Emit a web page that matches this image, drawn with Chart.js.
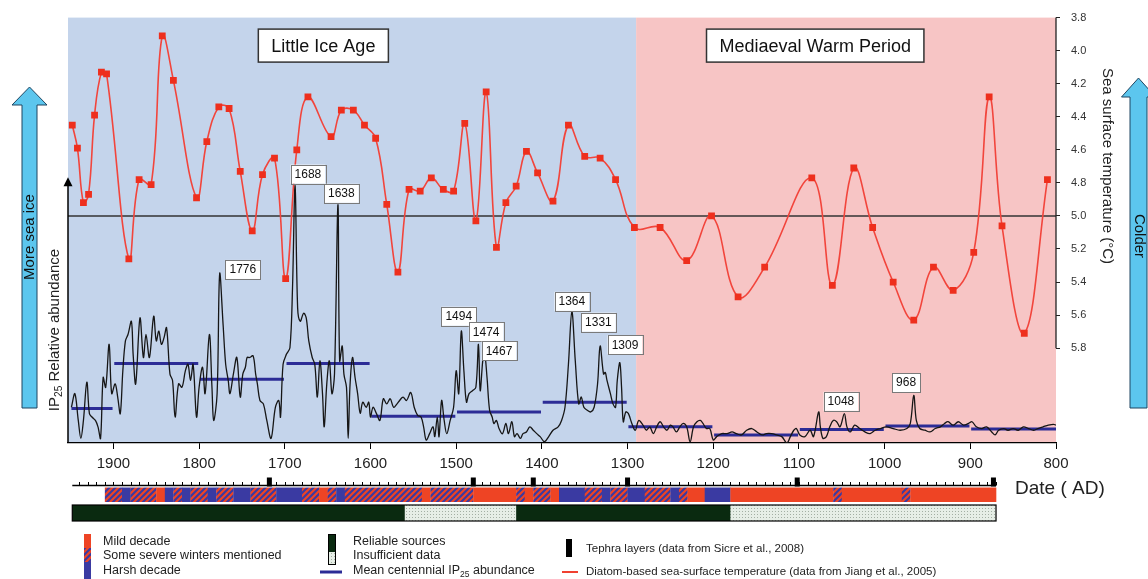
<!DOCTYPE html>
<html>
<head>
<meta charset="utf-8">
<script src="https://cdn.jsdelivr.net/npm/chart.js@4.4.0/dist/chart.umd.min.js"></script>
<style>
html, body { margin: 0; padding: 0; background: #fff; }
#wrap { position: relative; width: 1148px; height: 579px; }
</style>
</head>
<body>
<div id="wrap"><canvas id="chart" width="1148" height="579"></canvas></div>
<script>
// IP25 relative abundance (arbitrary 0-100 units)
var ip25Years = [
  1949,1945,1941,1938,1935,1931,1928,1925,1921,1918,1915,
  1912,1909,1905,1902,1898,1895,1892,1889,1886,1883,
  1879,1877,1874,1869,1865,1862,1858,1853,1850,1847,
  1844,1841,1838,1834,1831,1828,1824,1820,1816,1813,
  1810,1807,1803,1800,1796,1793,1788,1785,1783,1779,
  1776,1772,1769,1766,1764,1760,1756,1752,1749,1746,
  1744,1741,1737,1734,1732,1729,1725,1721,1716,1711,
  1707,1705,1702,1698,1694,1691,1688,1685,1682,1678,
  1675,1672,1668,1665,1662,1659,1656,1654,1651,1648,
  1645,1642,1638,1636,1633,1631,1628,1626,1624,1621,
  1618,1615,1612,1609,1605,1602,1600,1597,1593,1589,
  1585,1581,1577,1573,1569,1566,1562,1558,1553,1549,
  1545,1541,1538,1535,1531,1527,1525,1522,1520,1517,
  1514,1511,1507,1503,1500,1497,1494,1491,1488,1485,
  1481,1477,1474,1472,1469,1467,1464,1461,1458,1456,
  1453,1450,1446,1442,1439,1435,1432,1429,1425,1422,
  1418,1414,1410,1406,1402,1397,1392,1387,1381,1377,
  1373,1369,1365,1361,1357,1354,1351,1347,1343,1339,
  1335,1332,1328,1326,1324,1320,1317,1314,1312,1309,
  1307,1305,1302,1299,1295,1291,1287,1282,1278,1274,
  1270,1266,1262,1258,1254,1250,1247,1243,1239,1235,
  1231,1227,1223,1219,1215,1212,1208,1204,1200,1196,
  1190,1184,1178,1173,1167,1161,1155,1149,1143,1138,
  1132,1126,1120,1114,1110,1106,1103,1099,1093,1087,
  1083,1077,1075,1072,1068,1064,1060,1056,1052,1047,
  1044,1040,1035,1029,1023,1017,1011,1005,998,990,
  982,974,970,966,963,959,953,947,941,935,
  930,926,920,914,908,902,898,893,887,881,
  875,871,867,861,856,850,844,838,832,826,
  821,815,809,803,800
];
var ip25Values = [
  8.4,11.6,5.3,1.1,5.3,14.3,6.9,6.1,5.3,3.8,1.1,
  15.4,13.1,23.2,11.6,13.9,10.8,6.9,17.0,24.0,25.5,
  28.6,20.9,13.9,29.4,20.1,25.5,20.1,29.8,24.0,26.3,
  23.2,24.7,27.1,16.2,14.7,6.1,13.9,13.1,17.0,18.5,
  14.7,18.5,6.1,13.1,17.8,11.6,25.5,13.1,5.3,11.6,
  39.8,27.8,18.5,14.7,11.6,16.2,20.1,10.8,16.2,17.8,
  20.1,20.1,20.5,16.2,13.9,10.0,9.2,5.3,1.1,8.4,
  10.0,6.1,18.5,20.9,22.4,36.4,60.5,31.7,28.6,30.5,
  29.4,24.0,20.1,18.5,10.8,19.3,11.6,3.8,13.9,19.3,
  11.6,16.2,56.0,19.3,22.8,16.2,13.1,1.1,13.1,20.1,
  15.4,11.6,7.0,9.6,8.4,9.6,6.1,8.4,6.9,5.3,
  10.4,9.2,10.4,8.4,9.2,10.0,10.8,10.0,11.9,8.4,
  6.5,6.1,3.8,0.7,2.2,3.8,1.5,6.1,1.5,10.0,
  5.3,2.2,5.3,8.4,17.0,11.6,26.3,17.0,9.6,11.6,
  12.3,13.1,23.2,12.3,19.3,21.6,15.4,7.7,6.1,4.6,
  5.3,3.4,2.2,4.6,2.2,5.0,1.5,2.2,1.1,2.2,
  2.6,3.8,3.0,2.2,1.5,0.3,1.5,3.0,3.8,5.3,
  8.4,18.5,30.9,19.3,9.2,10.8,8.4,7.7,7.3,8.4,
  13.9,22.8,16.2,16.6,14.7,11.6,9.2,8.4,14.7,18.9,
  13.1,5.0,7.3,6.9,4.6,3.0,5.3,4.2,3.0,3.8,
  2.2,3.8,5.0,3.8,3.0,4.2,3.8,2.6,3.8,4.6,
  3.8,0.3,3.8,5.0,5.3,4.6,3.4,3.4,0.7,1.5,
  2.2,2.2,2.6,2.2,1.9,3.0,3.4,2.6,1.9,2.2,
  2.2,1.9,1.5,0.0,1.5,3.0,3.4,1.9,1.5,3.0,
  1.5,7.3,3.8,1.1,1.5,3.8,5.3,5.0,3.8,6.9,
  3.8,2.6,4.2,3.4,2.6,2.2,3.0,3.4,3.8,3.4,
  3.0,3.4,4.6,11.2,5.3,3.4,3.0,2.6,3.4,3.8,
  4.6,5.0,4.2,5.0,4.2,4.6,5.0,3.8,3.4,3.8,
  2.6,1.9,3.0,3.4,3.0,3.4,3.0,3.8,3.4,3.0,
  3.4,3.8,4.2,4.4,4.2
];

// diatom-based sea surface temperature (deg C)
var sstYears = [1948,1942,1935,1929,1922,1914,1908,1882,1870,1856,
  1843,1830,1803,1791,1777,1765,1752,1738,1726,1712,
  1699,1686,1673,1646,1634,1620,1607,1594,1581,1568,
  1555,1542,1529,1515,1503,1490,1477,1465,1453,1442,
  1430,1418,1405,1387,1369,1350,1332,1314,1292,1262,
  1231,1202,1171,1140,1085,1061,1036,1014,990,966,
  943,920,896,878,863,837,810];
var sstValues = [4.45,4.59,4.92,4.87,4.39,4.13,4.14,5.26,4.78,4.81,
  3.91,4.18,4.89,4.55,4.34,4.35,4.73,5.09,4.75,4.65,
  5.38,4.60,4.28,4.52,4.36,4.36,4.45,4.53,4.93,5.34,
  4.84,4.85,4.77,4.84,4.85,4.44,5.03,4.25,5.19,4.92,
  4.82,4.61,4.74,4.91,4.45,4.64,4.65,4.78,5.07,5.07,
  5.27,5.00,5.49,5.31,4.77,5.42,4.71,5.07,5.40,5.63,
  5.31,5.45,5.22,4.28,5.06,5.71,4.78];
var sstRef = 5.0;

// mean centennial IP25
var meanStart = [1949,1899,1799,1698,1599,1499,1399,1299,1199,1099,999,899];
var meanEnd = [1901,1801,1701,1601,1501,1401,1301,1201,1101,1001,901,800];
var meanValues = [8.1,18.7,15.0,18.7,6.3,7.3,9.6,3.8,1.9,3.2,4.0,3.3];

// labelled peaks
var peakLabels = ['1688','1638','1776','1494','1474','1467','1364','1331','1309','1048','968'];
var peakLabelYears = [1673,1634,1749,1497,1465,1450,1365,1334,1303,1051,975];
var peakLabelValues = [63.2,58.7,40.8,29.8,26.1,21.7,33.3,28.4,23.1,9.8,14.2];

// periods
var periodNames = ['Little Ice Age','Mediaeval Warm Period'];
var periodFrom = [1953,1290];
var periodTo = [1290,800];
var periodLabelYears = [1655,1081];

// decade classification (M mild, S some severe winters, H harsh)
var decadeEdges = [1910,1890,1880,1850,1840,1830,1820,1810,1790,1780,1760,1740,1710,1680,1660,1650,1640,1630,
  1540,1530,1480,1430,1420,1410,1390,1380,1350,1330,1320,1300,1280,1250,1240,1230,1210,1180,1060,1050,980,970,870];
var decadeKinds = ['S','H','S','M','H','S','H','S','H','S','H','S','H','S','M','S','H','S',
  'M','S','M','S','M','S','M','H','S','H','S','H','S','H','S','M','H','M','S','M','S','M'];
var tephraYears = [1718,1480,1410,1300,1102,873];
var recordStart = 1948, recordEnd = 870;
var insufficientFrom = [1560,1180];
var insufficientTo = [1430,870];

var xTicks = [1900,1800,1700,1600,1500,1400,1300,1200,1100,1000,900,800];

// styles
var FONT = "'Liberation Sans', Arial, Helvetica, sans-serif";
var MILD = '#ee4424', HARSH = '#3a3aa2', GREEN = '#0a2a10';
var bgFill = ['#c4d4eb', '#f7c5c5'];

Chart.defaults.font.family = FONT;

function hatchPattern(ctx) {
  var c = document.createElement('canvas');
  c.width = 6; c.height = 6;
  var p = c.getContext('2d');
  p.fillStyle = HARSH; p.fillRect(0, 0, 6, 6);
  p.strokeStyle = MILD; p.lineWidth = 2.2;
  p.beginPath();
  p.moveTo(-1, 7); p.lineTo(7, -1);
  p.moveTo(-1, 1); p.lineTo(1, -1);
  p.moveTo(5, 7); p.lineTo(7, 5);
  p.stroke();
  return ctx.createPattern(c, 'repeat');
}
function dotPattern(ctx) {
  var c = document.createElement('canvas');
  c.width = 3; c.height = 3;
  var p = c.getContext('2d');
  p.fillStyle = '#e6eee6'; p.fillRect(0, 0, 3, 3);
  p.fillStyle = '#a3afa3'; p.fillRect(1, 1, 1, 1);
  return ctx.createPattern(c, 'repeat');
}

// text with optional subscript parts: [[text, isSub], ...]
function richText(ctx, parts, x, y, size, align, color) {
  var w = 0, i;
  for (i = 0; i < parts.length; i++) {
    ctx.font = (parts[i][1] ? size * 0.68 : size) + 'px ' + FONT;
    w += ctx.measureText(parts[i][0]).width;
  }
  var cx = align === 'center' ? x - w / 2 : x;
  ctx.fillStyle = color || '#222';
  ctx.textAlign = 'left';
  ctx.textBaseline = 'middle';
  for (i = 0; i < parts.length; i++) {
    ctx.font = (parts[i][1] ? size * 0.68 : size) + 'px ' + FONT;
    ctx.fillText(parts[i][0], cx, parts[i][1] ? y + size * 0.3 : y);
    cx += ctx.measureText(parts[i][0]).width;
  }
}

function upArrow(ctx, cx, tip, bottom, body, head, headLen) {
  ctx.beginPath();
  ctx.moveTo(cx, tip);
  ctx.lineTo(cx + head, tip + headLen);
  ctx.lineTo(cx + body, tip + headLen);
  ctx.lineTo(cx + body, bottom);
  ctx.lineTo(cx - body, bottom);
  ctx.lineTo(cx - body, tip + headLen);
  ctx.lineTo(cx - head, tip + headLen);
  ctx.closePath();
  ctx.fillStyle = '#5cc6ee';
  ctx.fill();
  ctx.strokeStyle = '#1f4560';
  ctx.lineWidth = 1;
  ctx.stroke();
}

var decor = {
  id: 'decor',
  beforeDraw: function (chart) {
    var ctx = chart.ctx, a = chart.chartArea, x = chart.scales.x;
    ctx.save();
    for (var i = 0; i < periodFrom.length; i++) {
      var x0 = x.getPixelForValue(periodFrom[i]), x1 = x.getPixelForValue(periodTo[i]);
      ctx.fillStyle = bgFill[i];
      ctx.fillRect(Math.min(x0, x1), a.top, Math.abs(x1 - x0), a.bottom - a.top);
    }
    ctx.restore();
  },
  afterDatasetsDraw: function (chart) {
    var ctx = chart.ctx, a = chart.chartArea, x = chart.scales.x;
    var yI = chart.scales.ip25, yS = chart.scales.sst;
    ctx.save();
    // left axis with arrow
    var top = yI.getPixelForValue(62.5);
    ctx.strokeStyle = '#000'; ctx.lineWidth = 1.5;
    ctx.beginPath(); ctx.moveTo(a.left, a.bottom); ctx.lineTo(a.left, top + 6); ctx.stroke();
    ctx.fillStyle = '#000';
    ctx.beginPath(); ctx.moveTo(a.left, top); ctx.lineTo(a.left + 4.5, top + 9); ctx.lineTo(a.left - 4.5, top + 9); ctx.closePath(); ctx.fill();
    // right axis line
    ctx.strokeStyle = '#222'; ctx.lineWidth = 1.3;
    ctx.beginPath(); ctx.moveTo(a.right, yS.getPixelForValue(3.8)); ctx.lineTo(a.right, yS.getPixelForValue(5.8)); ctx.stroke();
    // peak labels
    ctx.font = '12px ' + FONT;
    for (var i = 0; i < peakLabels.length; i++) {
      var px = x.getPixelForValue(peakLabelYears[i]), py = yI.getPixelForValue(peakLabelValues[i]);
      var w = ctx.measureText(peakLabels[i]).width + 8, h = 19;
      ctx.fillStyle = '#fff';
      ctx.fillRect(px - w / 2, py - h / 2, w, h);
      ctx.strokeStyle = '#7a7a7a'; ctx.lineWidth = 1;
      ctx.strokeRect(Math.round(px - w / 2) + 0.5, Math.round(py - h / 2) + 0.5, Math.round(w), h);
      ctx.fillStyle = '#111'; ctx.textAlign = 'center'; ctx.textBaseline = 'middle';
      ctx.fillText(peakLabels[i], px, py + 0.5);
    }
    // period labels
    ctx.font = '18px ' + FONT;
    for (var j = 0; j < periodNames.length; j++) {
      var cx = x.getPixelForValue(periodLabelYears[j]), cy = a.top + 28;
      var bw = ctx.measureText(periodNames[j]).width + 26, bh = 33;
      ctx.fillStyle = '#fff';
      ctx.fillRect(cx - bw / 2, cy - bh / 2, bw, bh);
      ctx.strokeStyle = '#333'; ctx.lineWidth = 1.5;
      ctx.strokeRect(cx - bw / 2, cy - bh / 2, bw, bh);
      ctx.fillStyle = '#111'; ctx.textAlign = 'center'; ctx.textBaseline = 'middle';
      ctx.fillText(periodNames[j], cx, cy + 1);
    }
    ctx.restore();
  },
  afterDraw: function (chart) {
    var ctx = chart.ctx, a = chart.chartArea, x = chart.scales.x;
    var xs = x.getPixelForValue(recordStart), xe = x.getPixelForValue(recordEnd);
    ctx.save();

    // decade tick row with tephra layers
    var rowY = 485.5;
    ctx.strokeStyle = '#000'; ctx.lineWidth = 1.5;
    ctx.beginPath(); ctx.moveTo(xs, rowY); ctx.lineTo(xe, rowY); ctx.stroke();
    ctx.lineWidth = 1;
    ctx.beginPath();
    for (var d = 1940; d >= recordEnd; d -= 10) {
      var tx = Math.round(x.getPixelForValue(d)) + 0.5;
      ctx.moveTo(tx, rowY - 3.5); ctx.lineTo(tx, rowY);
    }
    ctx.stroke();
    ctx.fillStyle = '#000';
    tephraYears.forEach(function (t) {
      ctx.fillRect(x.getPixelForValue(t) - 2.5, 477.5, 5, 9);
    });

    // decade classification strip
    var hp = hatchPattern(ctx);
    for (var i = 0; i < decadeKinds.length; i++) {
      var x0 = x.getPixelForValue(decadeEdges[i]), x1 = x.getPixelForValue(decadeEdges[i + 1]);
      ctx.fillStyle = decadeKinds[i] === 'M' ? MILD : decadeKinds[i] === 'H' ? HARSH : hp;
      ctx.fillRect(x0, 487.5, x1 - x0 + 0.3, 14.5);
    }

    // source reliability bar
    ctx.fillStyle = GREEN;
    ctx.fillRect(xs, 505, xe - xs, 16);
    var dp = dotPattern(ctx);
    for (var k = 0; k < insufficientFrom.length; k++) {
      var a0 = x.getPixelForValue(insufficientFrom[k]), a1 = x.getPixelForValue(insufficientTo[k]);
      ctx.fillStyle = dp;
      ctx.fillRect(a0, 505, a1 - a0, 16);
    }
    ctx.strokeStyle = '#000'; ctx.lineWidth = 1.2;
    ctx.strokeRect(xs, 505, xe - xs, 16);

    // date label
    ctx.fillStyle = '#222'; ctx.font = '19px ' + FONT;
    ctx.textAlign = 'left'; ctx.textBaseline = 'middle';
    ctx.fillText('Date ( AD)', 1015, 489);

    // axis titles
    ctx.save();
    ctx.translate(55, 330); ctx.rotate(-Math.PI / 2);
    richText(ctx, [['IP', 0], ['25', 1], [' Relative abundance', 0]], 0, 0, 15, 'center', '#222');
    ctx.restore();
    ctx.save();
    ctx.translate(1107, 166); ctx.rotate(Math.PI / 2);
    richText(ctx, [['Sea surface temperature (\u00B0C)', 0]], 0, 0, 15, 'center', '#222');
    ctx.restore();

    // side arrows
    upArrow(ctx, 29.5, 87, 408, 7.5, 17.5, 18);
    upArrow(ctx, 1138.5, 78, 408, 8.5, 17, 19);
    ctx.save();
    ctx.translate(29.5, 237); ctx.rotate(-Math.PI / 2);
    richText(ctx, [['More sea ice', 0]], 0, 0, 15, 'center', '#111');
    ctx.restore();
    ctx.save();
    ctx.translate(1139, 236); ctx.rotate(Math.PI / 2);
    richText(ctx, [['Colder', 0]], 0, 0, 15, 'center', '#111');
    ctx.restore();

    // legend
    ctx.fillStyle = MILD; ctx.fillRect(84, 534, 7, 14);
    ctx.fillStyle = hp; ctx.fillRect(84, 548, 7, 14);
    ctx.fillStyle = HARSH; ctx.fillRect(84, 562, 7, 17);
    richText(ctx, [['Mild decade', 0]], 103, 542, 12.5, 'left', '#222');
    richText(ctx, [['Some severe winters mentioned', 0]], 103, 556, 12.5, 'left', '#222');
    richText(ctx, [['Harsh decade', 0]], 103, 571, 12.5, 'left', '#222');

    ctx.fillStyle = GREEN; ctx.fillRect(328, 534, 7, 18);
    ctx.fillStyle = dp; ctx.fillRect(328, 552, 7, 13);
    ctx.strokeStyle = '#000'; ctx.lineWidth = 1;
    ctx.strokeRect(328.5, 534.5, 7, 30);
    ctx.strokeStyle = '#2c2c96'; ctx.lineWidth = 3;
    ctx.beginPath(); ctx.moveTo(320, 572); ctx.lineTo(342, 572); ctx.stroke();
    richText(ctx, [['Reliable sources', 0]], 353, 542, 12.5, 'left', '#222');
    richText(ctx, [['Insufficient data', 0]], 353, 556, 12.5, 'left', '#222');
    richText(ctx, [['Mean centennial IP', 0], ['25', 1], [' abundance', 0]], 353, 571, 12.5, 'left', '#222');

    ctx.fillStyle = '#000'; ctx.fillRect(566, 539, 6, 18);
    ctx.strokeStyle = '#f04030'; ctx.lineWidth = 2;
    ctx.beginPath(); ctx.moveTo(562, 572); ctx.lineTo(578, 572); ctx.stroke();
    richText(ctx, [['Tephra layers (data from Sicre et al., 2008)', 0]], 586, 549, 11.5, 'left', '#222');
    richText(ctx, [['Diatom-based sea-surface temperature (data from Jiang et al., 2005)', 0]], 586, 572, 11.5, 'left', '#222');

    ctx.restore();
  }
};

var meanPoints = [];
for (var m = 0; m < meanValues.length; m++) {
  meanPoints.push({x: meanStart[m], y: meanValues[m]});
  meanPoints.push({x: meanEnd[m], y: meanValues[m]});
  meanPoints.push({x: meanEnd[m], y: null});
}

var ctx = document.getElementById('chart');
var chart = new Chart(ctx, {
  type: 'line',
  data: {
    datasets: [
      {
        label: 'Diatom-based SST',
        data: sstYears.map(function (yr, i) { return {x: yr, y: sstValues[i]}; }),
        yAxisID: 'sst',
        borderColor: '#f2453c',
        backgroundColor: '#ee2f1d',
        borderWidth: 1.6,
        pointStyle: 'rect',
        pointRadius: 4.8,
        pointBorderWidth: 0,
        tension: 0.4,
        fill: false
      },
      {
        label: 'IP25',
        data: ip25Years.map(function (yr, i) { return {x: yr, y: ip25Values[i]}; }),
        yAxisID: 'ip25',
        borderColor: '#161616',
        borderWidth: 1.3,
        pointRadius: 0,
        tension: 0.35,
        fill: false
      },
      {
        label: 'Mean centennial IP25',
        data: meanPoints,
        yAxisID: 'ip25',
        borderColor: '#2c2c96',
        borderWidth: 3,
        pointRadius: 0,
        spanGaps: false,
        tension: 0,
        fill: false
      },
      {
        label: 'SST reference',
        data: [{x: 1953, y: sstRef}, {x: 800, y: sstRef}],
        yAxisID: 'sst',
        borderColor: '#333',
        borderWidth: 1.5,
        pointRadius: 0,
        fill: false
      }
    ]
  },
  options: {
    responsive: false,
    animation: false,
    events: [],
    layout: { padding: { top: 14, left: 0, right: 0, bottom: 0 } },
    plugins: { legend: { display: false }, tooltip: { enabled: false } },
    scales: {
      x: {
        type: 'linear',
        reverse: true,
        min: 800,
        max: 1953,
        afterFit: function (s) { s.height = 136; },
        afterBuildTicks: function (s) { s.ticks = xTicks.map(function (v) { return {value: v}; }); },
        ticks: { color: '#222', font: { size: 15 }, padding: 6, maxRotation: 0, autoSkip: false,
                 callback: function (v) { return String(v); } },
        grid: { drawOnChartArea: false, tickLength: 6, color: '#000' },
        border: { color: '#000', width: 1.2 }
      },
      ip25: {
        position: 'left',
        min: 0,
        max: 100,
        afterFit: function (s) { s.width = 68; },
        ticks: { display: false },
        grid: { display: false },
        border: { display: false }
      },
      sst: {
        position: 'right',
        reverse: true,
        min: 3.8,
        max: 6.374,
        afterFit: function (s) { s.width = 92; },
        afterBuildTicks: function (s) {
          s.ticks = s.ticks.filter(function (t) { return t.value <= 5.81; });
        },
        ticks: { stepSize: 0.2, color: '#333', font: { size: 11 }, padding: 11,
                 callback: function (v) { return Number(v).toFixed(1); } },
        grid: { drawOnChartArea: false, tickLength: 4, color: '#222' },
        border: { display: false }
      }
    }
  },
  plugins: [decor]
});
</script>
</body>
</html>
